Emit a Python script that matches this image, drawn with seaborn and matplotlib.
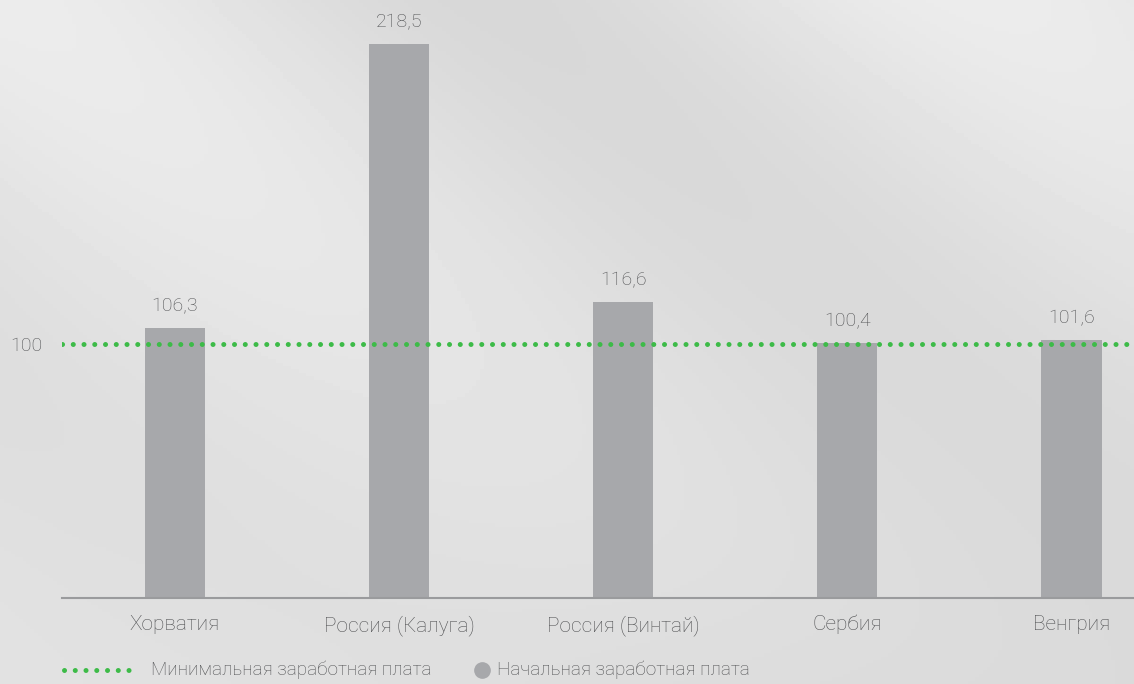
import numpy as np
import pandas as pd
import matplotlib.pyplot as plt
import seaborn as sns
from matplotlib.lines import Line2D

categories = ['Хорватия', 'Россия (Калуга)', 'Россия (Винтай)', 'Сербия', 'Венгрия']
start_wage = [106.3, 218.5, 116.6, 100.4, 101.6]
min_wage = 100
value_labels = ['106,3', '218,5', '116,6', '100,4', '101,6']
legend_labels = ['Минимальная заработная плата', 'Начальная заработная плата']

bar_color = '#a7a8ab'
green = '#3dbb48'
text_color = '#4f5052'
dots = (0, (0.01, 2.14))

sns.set_theme(style='white')
plt.rcParams['font.family'] = ['Roboto', 'DejaVu Sans']

df = pd.DataFrame({'country': categories, 'value': start_wage})

fig = plt.figure(figsize=(11.34, 6.84), dpi=100)
fig.patch.set_facecolor('#e4e5e6')

# soft background standing in for the photo
bg = fig.add_axes([0, 0, 1, 1], zorder=-1)
yy, xx = np.mgrid[0:1:200j, 0:1:300j]
shade = 0.885 + 0.04 * np.cos((xx * 1.2 - yy * 0.8) * 6) * (1 - yy) - 0.03 * yy * xx
bg.imshow(shade, cmap='gray', vmin=0, vmax=1, aspect='auto', extent=[0, 1, 0, 1])
bg.axis('off')

ax = fig.add_axes([62 / 1134, (684 - 598) / 684, 1 - 62 / 1134, 598 / 684])
ax.patch.set_alpha(0)
sns.barplot(data=df, x='country', y='value', color=bar_color, width=0.27,
            saturation=1, linewidth=0, ax=ax, zorder=2)

ax.axhline(min_wage, color=green, linestyle=dots, linewidth=3.6,
           dash_capstyle='round', zorder=3)

for i, (v, lab) in enumerate(zip(start_wage, value_labels)):
    ax.text(i, v + 5, lab, ha='center', va='bottom', fontsize=14,
            color=text_color, fontweight='light')

ax.set_xlim(-0.504, 4.28)
ax.set_ylim(0, 235.8)
ax.set_yticks([min_wage])
ax.set_yticklabels(['100'])
ax.tick_params(axis='y', length=0, pad=14, labelsize=14, labelcolor=text_color)
ax.tick_params(axis='x', length=0, pad=12, labelsize=15, labelcolor=text_color)
for t in ax.get_xticklabels() + ax.get_yticklabels():
    t.set_fontweight('light')
ax.set_xlabel('')
ax.set_ylabel('')
for s in ['top', 'right', 'left']:
    ax.spines[s].set_visible(False)
ax.spines['bottom'].set_color('#9a9b9d')
ax.spines['bottom'].set_linewidth(1.5)

# legend drawn in figure pixels
W, H = 1134, 684
ly = 1 - 670 / H
fig.add_artist(Line2D([64 / W, 137 / W], [ly, ly], color=green, linestyle=dots,
                      linewidth=3.6, dash_capstyle='round'))
fig.text(151 / W, ly, legend_labels[0], va='center', ha='left', fontsize=13.6,
         color=text_color, fontweight='light')
fig.add_artist(Line2D([482 / W], [ly], marker='o', color='none',
                      markerfacecolor=bar_color, markeredgecolor=bar_color,
                      markersize=11))
fig.text(497 / W, ly, legend_labels[1], va='center', ha='left', fontsize=13.6,
         color=text_color, fontweight='light')

fig.savefig('out.png', dpi=100, facecolor=fig.get_facecolor())
